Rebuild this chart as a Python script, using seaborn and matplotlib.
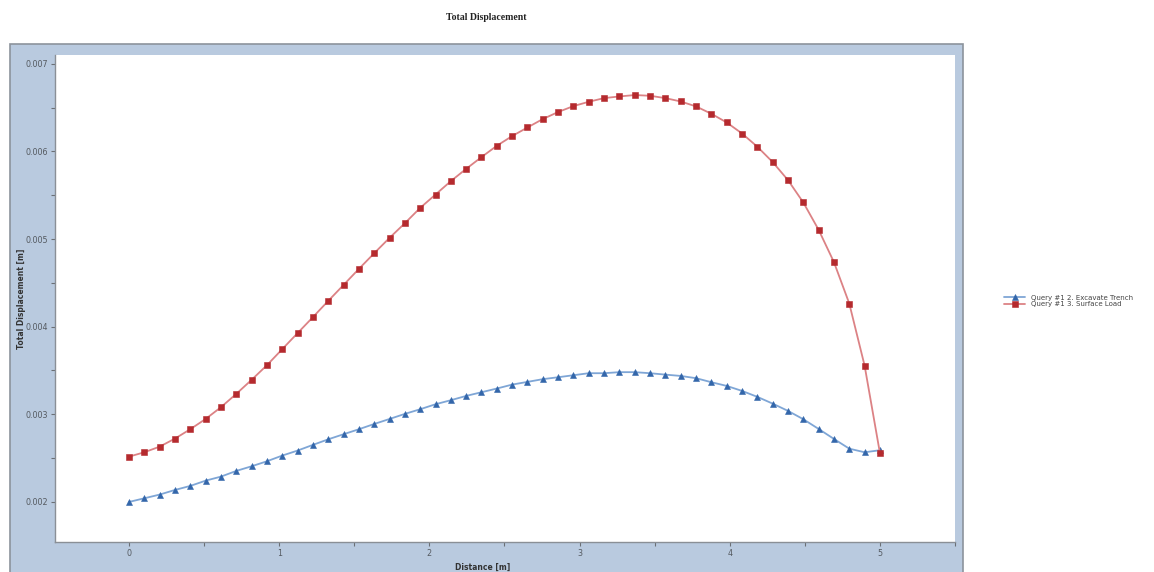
import numpy as np
import pandas as pd
import matplotlib
matplotlib.use("Agg")
import matplotlib.pyplot as plt
from matplotlib.patches import Rectangle
from matplotlib.ticker import MultipleLocator, FixedLocator, FixedFormatter
import seaborn as sns

distance = [0.0, 0.102, 0.204, 0.306, 0.408, 0.510, 0.612, 0.714, 0.816, 0.918,
            1.020, 1.122, 1.224, 1.327, 1.429, 1.531, 1.633, 1.735, 1.837, 1.939,
            2.041, 2.143, 2.245, 2.347, 2.449, 2.551, 2.653, 2.755, 2.857, 2.959,
            3.061, 3.163, 3.265, 3.367, 3.469, 3.571, 3.673, 3.776, 3.878, 3.980,
            4.082, 4.184, 4.286, 4.388, 4.490, 4.592, 4.694, 4.796, 4.898, 5.0]

excavate = [0.002000, 0.002042, 0.002084, 0.002137, 0.002183, 0.002243, 0.002289, 0.002354, 0.002407, 0.002464,
            0.002529, 0.002586, 0.002651, 0.002715, 0.002773, 0.002830, 0.002890, 0.002947, 0.003005, 0.003058,
            0.003115, 0.003161, 0.003210, 0.003252, 0.003294, 0.003339, 0.003370, 0.003401, 0.003423, 0.003446,
            0.003469, 0.003469, 0.003481, 0.003481, 0.003469, 0.003453, 0.003438, 0.003412, 0.003366, 0.003324,
            0.003267, 0.003199, 0.003122, 0.003039, 0.002944, 0.002833, 0.002719, 0.002608, 0.002567, 0.002590]

surface = [0.002517, 0.002567, 0.002631, 0.002723, 0.002830, 0.002947, 0.003081, 0.003233, 0.003393, 0.003560,
           0.003743, 0.003926, 0.004108, 0.004295, 0.004477, 0.004660, 0.004839, 0.005014, 0.005181, 0.005356,
           0.005508, 0.005661, 0.005801, 0.005935, 0.006064, 0.006175, 0.006273, 0.006369, 0.006449, 0.006517,
           0.006566, 0.006608, 0.006627, 0.006643, 0.006635, 0.006608, 0.006570, 0.006513, 0.006429, 0.006330,
           0.006204, 0.006053, 0.005878, 0.005672, 0.005417, 0.005105, 0.004736, 0.004264, 0.003556, 0.002559]

series_names = ["Query #1 2. Excavate Trench", "Query #1 3. Surface Load"]
x_ticks = [0, 1, 2, 3, 4, 5]
x_tick_labels = ["0", "1", "2", "3", "4", "5"]
y_ticks = [0.002, 0.003, 0.004, 0.005, 0.006, 0.007]
y_tick_labels = ["0.002", "0.003", "0.004", "0.005", "0.006", "0.007"]

df = pd.DataFrame({
    "Distance": distance * 2,
    "Displacement": excavate + surface,
    "Series": [series_names[0]] * len(distance) + [series_names[1]] * len(distance),
})

sns.set_theme(style="white")
plt.rcParams["font.family"] = ["DejaVu Sans"]

fig = plt.figure(figsize=(11.54, 5.72), dpi=100)
fig.patch.set_facecolor("white")

# outer chart panel
panel = Rectangle((10 / 1154, -0.02), 953 / 1154, 1.02 - 44 / 572,
                  transform=fig.transFigure, facecolor="#b9cadf",
                  edgecolor="#8c939c", linewidth=1.2, zorder=0)
fig.patches.append(panel)

ax = fig.add_axes([55 / 1154, 1 - 542 / 572, 900 / 1154, 487 / 572])
ax.set_facecolor("white")
ax.set_zorder(1)

line_colors = {series_names[0]: "#7fa6d6", series_names[1]: "#dc8285"}
marker_colors = ["#3366aa", "#b52a2e"]
sns.lineplot(data=df, x="Distance", y="Displacement", hue="Series", style="Series",
             palette=line_colors, markers={series_names[0]: "^", series_names[1]: "s"},
             dashes=False, linewidth=1.3, markersize=4.2, legend=False, ax=ax)

for ln, mc in zip(ax.lines, marker_colors):
    ln.set_markerfacecolor(mc)
    ln.set_markeredgecolor(mc)
    ln.set_markeredgewidth(0.4)

ax.set_xlim(-0.493, 5.5)
ax.set_ylim(0.001543, 0.0071)
ax.xaxis.set_major_locator(FixedLocator(x_ticks))
ax.xaxis.set_major_formatter(FixedFormatter(x_tick_labels))
ax.xaxis.set_minor_locator(MultipleLocator(0.5))
ax.yaxis.set_major_locator(FixedLocator(y_ticks))
ax.yaxis.set_major_formatter(FixedFormatter(y_tick_labels))
ax.yaxis.set_minor_locator(MultipleLocator(0.0005))

for side in ["top", "right"]:
    ax.spines[side].set_visible(False)
for side in ["left", "bottom"]:
    ax.spines[side].set_color("#8a8f96")
    ax.spines[side].set_linewidth(1.0)

ax.tick_params(axis="both", which="both", direction="out", color="#6b6f75",
               labelsize=5.8, labelcolor="#555a60", bottom=True, left=True)
ax.tick_params(axis="both", which="major", length=3, width=0.8, pad=2)
ax.tick_params(axis="both", which="minor", length=3, width=0.8)

ax.set_xlabel("Distance [m]", fontsize=5.5, fontweight="bold", color="#333333", labelpad=3)
ax.set_ylabel("Total Displacement [m]", fontsize=5.5, fontweight="bold", color="#333333", labelpad=-2)
ax.xaxis.set_label_coords(0.475, -0.043)
ax.yaxis.set_label_coords(-0.0325, 0.5)
ax.grid(False)

fig.text(486 / 1154, 1 - 17 / 572, "Total Displacement", ha="center", va="center",
         fontsize=7, fontweight="bold", color="#222222", family=["Liberation Serif", "DejaVu Serif"])

handles = ax.lines[:2]
fig.legend(handles, series_names, loc="center left",
           bbox_to_anchor=(998 / 1154, 1 - 301 / 572), frameon=False,
           fontsize=5, handlelength=3.0, handletextpad=0.8, labelspacing=0.05,
           labelcolor="#444444")

fig.savefig("out.png", dpi=100, facecolor="white")
